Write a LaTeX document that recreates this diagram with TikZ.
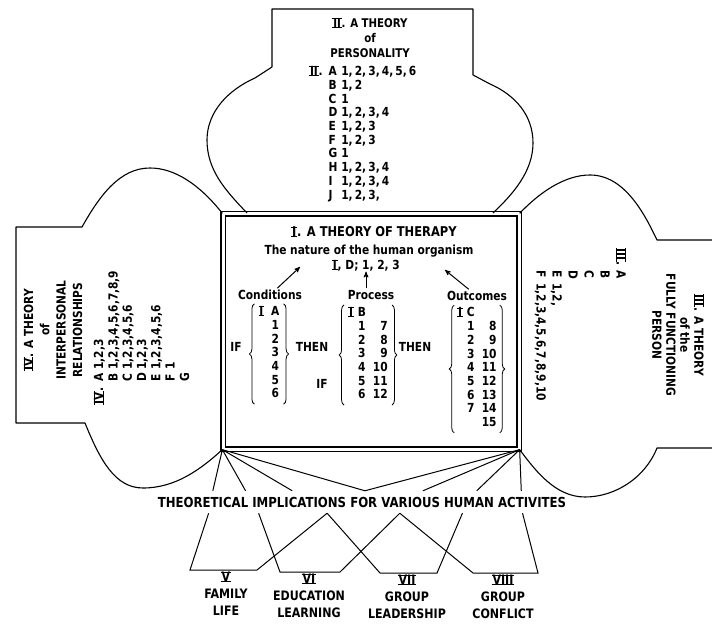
\documentclass[tikz,border=0pt]{standalone}
\usepackage{fontspec}
\setmainfont{DejaVu Sans}[FakeStretch=0.85]
\usetikzlibrary{arrows, calc, decorations.pathreplacing}

% roman numeral with a bar above and below
\newcommand\rn[1]{\setbox0\hbox{\kern0.8pt#1\kern0.8pt}\rlap{\rule[-0.2pt]{\wd0}{0.9pt}}\rlap{\rule[\dimexpr\ht0-0.7pt\relax]{\wd0}{0.9pt}}\box0}

\tikzset{
  lobe/.style = {line width=1.1pt, line join=round},
  link/.style = {line width=1pt},
  curly/.style = {decorate, decoration={brace, amplitude=5pt}, line width=0.8pt},
  heading/.style = {font=\bfseries\fontsize{12.5}{15}\selectfont, align=center, inner sep=0pt},
  listing/.style = {font=\bfseries\fontsize{12.5}{13.7}\selectfont, inner sep=0pt},
  group/.style = {listing, inner ysep=2pt},
  area/.style = {font=\bfseries\fontsize{13}{17}\selectfont, align=center, inner sep=2pt},
}

\begin{document}
\begin{tikzpicture}[x=1pt, y=-1pt, >=stealth']
  \useasboundingbox (0,0) rectangle (712,628);

  % I: the therapy box
  \node[draw, double, line width=1.3pt, double distance=3pt, minimum width=296pt, minimum height=235pt, inner sep=0pt] (therapy) at (371,331.5) {};

  % the four lobes round it
  \draw[lobe] (247,213) .. controls (225,190) and (207,170) .. (207,140)
    .. controls (207,112) and (228,90) .. (255,78) -- (272,67) -- (272,9) -- (473,9) -- (473,75) -- (490,84)
    .. controls (515,95) and (533,115) .. (533,143) .. controls (533,172) and (512,195) .. (493,213);
  \draw[lobe] (therapy.north west) .. controls (200,185) and (175,168) .. (150,168)
    .. controls (120,168) and (100,195) .. (82,227) -- (16,227) -- (16,423) -- (85,423)
    .. controls (100,460) and (115,488) .. (143,488) .. controls (175,488) and (200,470) .. (therapy.south west);
  \draw[lobe] (therapy.north east) .. controls (540,192) and (565,175) .. (590,175)
    .. controls (625,175) and (645,215) .. (657,240) -- (713,240);
  \draw[lobe] (713,448) -- (657,448) .. controls (645,478) and (615,497) .. (585,497)
    .. controls (555,497) and (535,470) .. (therapy.south east);

  % II
  \node[heading, font=\bfseries\fontsize{12}{15}\selectfont] (iihead) at (370,38) {\rn{II}. A THEORY\\of\\PERSONALITY};
  \node[listing, anchor=north west] (iilist) at (309,66) {\begin{tabular}{@{}l@{\hspace{6pt}}l@{ }l@{}}
    \rn{II}. & A & 1,\,2,\,3,\,4,\,5,\,6\\ & B & 1,\,2\\ & C & 1\\ & D & 1,\,2,\,3,\,4\\ & E & 1,\,2,\,3\\
    & F & 1,\,2,\,3\\ & G & 1\\ & H & 1,\,2,\,3,\,4\\ & I & 1,\,2,\,3,\,4\\ & J & 1,\,2,\,3,\end{tabular}};

  % IV
  \node[heading, rotate=90, font=\bfseries\fontsize{12.5}{16.3}\selectfont] (ivhead) at (53,330) {\rn{IV}. A THEORY\\of\\INTERPERSONAL\\RELATIONSHIPS};
  \node[listing, rotate=90, anchor=north west, font=\bfseries\fontsize{12.5}{14.3}\selectfont] (ivlist) at (93,405) {\begin{tabular}{@{}l@{\hspace{5pt}}l@{ }l@{}}
    \rn{IV}. & A & 1,2,3\\ & B & 1,2,3,4,5,6,7,8,9\\ & C & 1,2,3,4,5,6\\ & D & 1,2,3\\
    & E & 1,2,3,4,5,6\\ & F & 1\\ & G & \end{tabular}};

  % III
  \node[heading, rotate=-90, font=\bfseries\fontsize{12.5}{14}\selectfont] (iiihead) at (678,335) {\rn{III}. A THEORY\\of the\\FULLY FUNCTIONING\\PERSON};
  \node[listing, rotate=-90, anchor=north west, font=\bfseries\fontsize{12.5}{16}\selectfont] (iiilist) at (628,248) {\begin{tabular}{@{}l@{\hspace{5pt}}l@{ }l@{}}
    \rn{III}. & A & \\ & B & \\ & C & \\ & D & \\ & E & 1,2,\\ & F & 1,2,3,4,5,6,7,8,9,10\end{tabular}};

  % inside the box
  \node[heading, font=\bfseries\fontsize{13.5}{15}\selectfont] (title) at (374,232) {\rn{I}. A THEORY OF THERAPY};
  \node[heading] (nature) at (369,251) {The nature of the human organism};
  \node[heading] (idlist) at (366,266) {\rn{I}, D; 1, 2, 3};
  \node[heading, outer sep=2pt] (condlabel) at (270,295) {Conditions};
  \node[heading, outer sep=2pt] (proclabel) at (371,295) {Process};
  \node[heading, outer sep=2pt] (outlabel) at (477,296) {Outcomes};
  \coordinate (condtip) at (300,267);
  \coordinate (outtip) at (445,270);
  \draw[->, link] (condlabel) -- (condtip);
  \draw[->, link] (idlist.south |- proclabel.north) -- (idlist.south);
  \draw[->, link] (outlabel) -- (outtip);

  \node[group, inner xsep=4pt] (cond) at (269,354) {\begin{tabular}{@{}l@{\hspace{7pt}}c@{}}
    \rn{I} & A\\ & 1\\ & 2\\ & 3\\ & 4\\ & 5\\ & 6\end{tabular}};
  \node[group, inner xsep=4pt] (proc) at (368,355) {\begin{tabular}{@{}l@{\hspace{4pt}}c@{\hspace{7pt}}r@{}}
    \rn{I} & B & \\ & 1 & 7\\ & 2 & 8\\ & 3 & 9\\ & 4 & 10\\ & 5 & 11\\ & 6 & 12\end{tabular}};
  \node[group, inner xsep=3pt] (outc) at (477,369) {\begin{tabular}{@{}l@{\hspace{4pt}}c@{\hspace{7pt}}r@{}}
    \rn{I} & C & \\ & 1 & 8\\ & 2 & 9\\ & 3 & 10\\ & 4 & 11\\ & 5 & 12\\ & 6 & 13\\ & 7 & 14\\ & & 15\end{tabular}};
  \foreach \g in {cond, proc, outc} {
    \draw[curly] (\g.south west) -- (\g.north west);
    \draw[curly] (\g.north east) -- (\g.south east);
  }
  \node[heading] (ifcond) at (236,347) {IF};
  \node[heading] (thencond) at (312,347) {THEN};
  \node[heading] (thenproc) at (415,347) {THEN};
  \node[heading] (ifproc) at (322,384) {IF};

  % implications
  \node[font=\bfseries\fontsize{13.8}{16}\selectfont, inner sep=0pt, outer sep=6pt] (implic) at (362,502) {THEORETICAL IMPLICATIONS FOR VARIOUS HUMAN ACTIVITES};
  \foreach \f in {0.145, 0.223, 0.334, 0.507}
    \draw[link] (therapy.south west) -- ($(implic.north west)!\f!(implic.north east)$);
  \foreach \f in {0.507, 0.645, 0.773, 0.879}
    \draw[link] (therapy.south east) -- ($(implic.north west)!\f!(implic.north east)$);

  \node[area, anchor=north] (family) at (226,570) {\rn{V}\\FAMILY\\LIFE};
  \node[area, anchor=north] (education) at (309,572) {\rn{VI}\\EDUCATION\\LEARNING};
  \node[area, anchor=north] (leadership) at (407,573) {\rn{VII}\\GROUP\\LEADERSHIP};
  \node[area, anchor=north] (conflict) at (503,573) {\rn{VIII}\\GROUP\\CONFLICT};

  \draw[link] ($(implic.south west)!0.135!(implic.south east)$) -- ([xshift=-36pt]family.north)
    -- ([xshift=31pt]family.north) -- ($(implic.south west)!0.417!(implic.south east)$);
  \draw[link] ($(implic.south west)!0.254!(implic.south east)$) -- ([xshift=-29pt]education.north)
    -- ([xshift=31pt]education.north) -- ($(implic.south west)!0.590!(implic.south east)$);
  \draw[link] ($(implic.south west)!0.417!(implic.south east)$) -- ([xshift=-27pt]leadership.north)
    -- ([xshift=30pt]leadership.north) -- ($(implic.south west)!0.739!(implic.south east)$);
  \draw[link] ($(implic.south west)!0.590!(implic.south east)$) -- ([xshift=-30pt]conflict.north)
    -- ([xshift=35pt]conflict.north) -- ($(implic.south west)!0.882!(implic.south east)$);
\end{tikzpicture}
\end{document}
